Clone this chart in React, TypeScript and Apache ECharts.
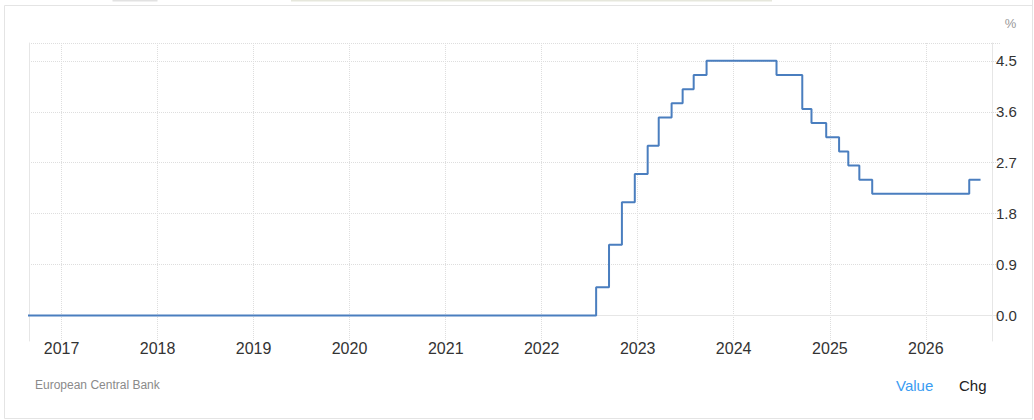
import React, { useEffect, useRef } from "react";
import * as echarts from "echarts";

// ECB rate change dates and new values (step series)
const changeDates = [
  "2016-03-16",
  "2022-07-27",
  "2022-09-14",
  "2022-11-02",
  "2022-12-21",
  "2023-02-08",
  "2023-03-22",
  "2023-05-10",
  "2023-06-21",
  "2023-08-02",
  "2023-09-20",
  "2024-06-12",
  "2024-09-18",
  "2024-10-23",
  "2024-12-18",
  "2025-02-05",
  "2025-03-12",
  "2025-04-23",
  "2025-06-11",
  "2026-06-15",
  "2026-07-28",
];
const rateValues = [
  0.0, 0.5, 1.25, 2.0, 2.5, 3.0, 3.5, 3.75, 4.0, 4.25, 4.5, 4.25, 3.65, 3.4,
  3.15, 2.9, 2.65, 2.4, 2.15, 2.4, 2.4,
];

const yLabelValues = [0, 0.9, 1.8, 2.7, 3.6, 4.5];
const yLabelTexts = ["0.0", "0.9", "1.8", "2.7", "3.6", "4.5"];

const X_MIN = "2016-08-30";
const X_MAX = "2026-10-10";
const Y_MIN = -0.45;
const Y_MAX = 4.815;
const Y_STEP = 0.45;

const sourceText = "European Central Bank";
const unitText = "%";
const tabTexts = ["Value", "Chg"];

const GRID_COLOR = "#dedede";
const AXIS_COLOR = "#e6e6e6";

function labelFor(v: number): string {
  for (let i = 0; i < yLabelValues.length; i++) {
    if (Math.abs(yLabelValues[i] - v) < 1e-6) return yLabelTexts[i];
  }
  return "";
}

export default function App() {
  const ref = useRef<HTMLDivElement>(null);

  useEffect(() => {
    if (!ref.current) return;
    const chart = echarts.init(ref.current, null, { renderer: "svg" });

    const seriesData = changeDates.map((d, i) => [d, rateValues[i]]);

    // split line colours: only the labelled ticks (and the top edge) are visible
    const tickVals: number[] = [];
    for (let k = -1; k * Y_STEP <= Y_MAX + 1e-9; k++) tickVals.push(+(k * Y_STEP).toFixed(4));
    if (tickVals[tickVals.length - 1] < Y_MAX - 1e-6) tickVals.push(Y_MAX);
    const splitColors = tickVals.map((v) =>
      labelFor(v) !== "" || Math.abs(v - Y_MAX) < 1e-6 ? GRID_COLOR : "rgba(0,0,0,0)"
    );

    const font = "'Liberation Sans', Arial, Helvetica, sans-serif";

    chart.setOption({
      animation: false,
      backgroundColor: "#ffffff",
      grid: { left: 29, right: 34, top: 43, bottom: 79, containLabel: false },
      xAxis: {
        type: "time",
        min: X_MIN,
        max: X_MAX,
        minInterval: 365 * 24 * 3600 * 1000,
        maxInterval: 366 * 24 * 3600 * 1000,
        axisLine: { show: true, lineStyle: { color: AXIS_COLOR, width: 1 } },
        axisTick: { show: false },
        axisLabel: {
          show: true,
          formatter: "{yyyy}",
          color: "#333333",
          fontSize: 16,
          fontFamily: font,
          margin: -1,
          showMinLabel: false,
          showMaxLabel: false,
          hideOverlap: false,
        },
        splitLine: {
          show: true,
          showMinLine: false,
          showMaxLine: false,
          lineStyle: { color: GRID_COLOR, type: "dotted", width: 1 },
        },
        minorTick: { show: false },
        minorSplitLine: { show: false },
      },
      yAxis: [
        {
          type: "value",
          position: "right",
          offset: -8,
          min: Y_MIN,
          max: Y_MAX,
          interval: Y_STEP,
          axisLine: { show: true, lineStyle: { color: AXIS_COLOR, width: 1 } },
          axisTick: { show: false },
          axisLabel: {
            show: true,
            color: "#333333",
            fontSize: 15,
            fontFamily: font,
            margin: 4,
            showMinLabel: true,
            showMaxLabel: true,
            padding: [0, 0, 2, 0],
            formatter: (v: number) => labelFor(v),
          },
          splitLine: {
            show: true,
            showMinLine: true,
            showMaxLine: true,
            lineStyle: { color: splitColors, type: "dotted", width: 1 },
          },
        },
        {
          type: "value",
          position: "left",
          min: Y_MIN,
          max: Y_MAX,
          interval: Y_STEP,
          axisLine: { show: true, lineStyle: { color: AXIS_COLOR, width: 1 } },
          axisTick: { show: false },
          axisLabel: { show: false },
          splitLine: { show: false },
        },
      ],
      series: [
        {
          type: "line",
          step: "end",
          yAxisIndex: 0,
          data: seriesData,
          showSymbol: false,
          symbol: "none",
          clip: true,
          lineStyle: { color: "#4a7ebf", width: 2 },
          itemStyle: { color: "#4a7ebf" },
          emphasis: { disabled: true },
          silent: true,
        },
      ],
      graphic: [
        {
          type: "rect",
          shape: { x: 4.5, y: 5.5, width: 1028, height: 413 },
          style: { fill: "none", stroke: "#e4e4e4", lineWidth: 1 },
          silent: true,
        },
        {
          type: "line",
          shape: { x1: 1032.5, y1: 0, x2: 1032.5, y2: 6 },
          style: { stroke: "#e4e4e4", lineWidth: 1 },
          silent: true,
        },
        {
          type: "rect",
          shape: { x: 112.5, y: 0, width: 45, height: 1.5 },
          style: { fill: "#e2e2e2" },
          silent: true,
        },
        {
          type: "rect",
          shape: { x: 291, y: 0, width: 481, height: 1.5 },
          style: { fill: "#e6e7dc" },
          silent: true,
        },
        {
          type: "text",
          x: 1010.5,
          y: 23,
          style: {
            text: unitText,
            fill: "#999999",
            fontSize: 13,
            fontFamily: font,
            align: "center",
            verticalAlign: "middle",
          },
          silent: true,
        },
        {
          type: "text",
          x: 35,
          y: 385,
          style: {
            text: sourceText,
            fill: "#8a8a8a",
            fontSize: 12,
            fontFamily: font,
            align: "left",
            verticalAlign: "middle",
          },
          silent: true,
        },
        {
          type: "text",
          x: 896,
          y: 385,
          style: {
            text: tabTexts[0],
            fill: "#3a9cf2",
            fontSize: 15,
            fontFamily: font,
            align: "left",
            verticalAlign: "middle",
          },
          silent: true,
        },
        {
          type: "text",
          x: 959,
          y: 385,
          style: {
            text: tabTexts[1],
            fill: "#222222",
            fontSize: 15,
            fontFamily: font,
            align: "left",
            verticalAlign: "middle",
          },
          silent: true,
        },
      ],
    });

    return () => {
      chart.dispose();
    };
  }, []);

  return (
    <div
      ref={ref}
      style={{ position: "absolute", left: 0, top: 0, width: 1034, height: 420, background: "#fff" }}
    />
  );
}
